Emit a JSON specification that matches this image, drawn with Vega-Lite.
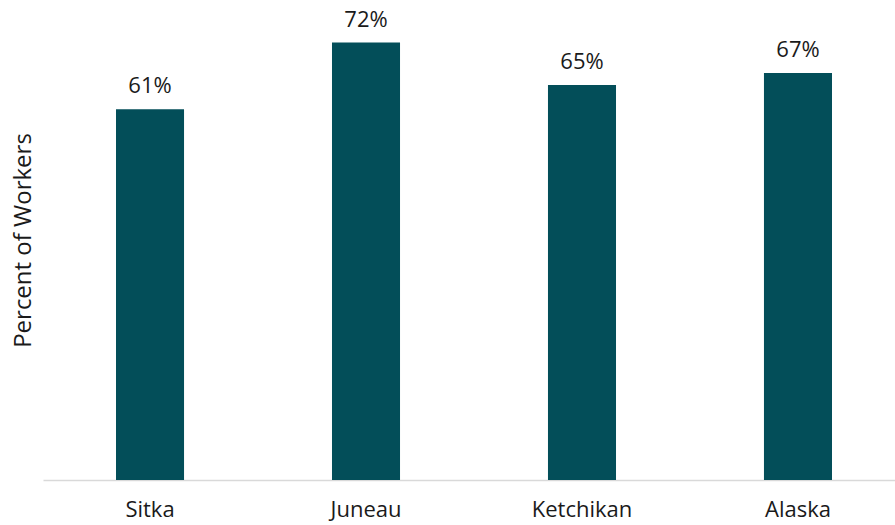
{
  "$schema": "https://vega.github.io/schema/vega-lite/v6.json",
  "autosize": "none",
  "padding": {"left": 43, "top": 0, "right": 0, "bottom": 45},
  "width": 862,
  "height": 480,
  "background": "white",
  "config": {
    "view": {"stroke": null},
    "font": "Open Sans"
  },
  "data": {
    "values": [
      {"area": "Sitka", "pct": 0.61},
      {"area": "Juneau", "pct": 0.72},
      {"area": "Ketchikan", "pct": 0.65},
      {"area": "Alaska", "pct": 0.67}
    ]
  },
  "encoding": {
    "x": {
      "field": "area",
      "type": "nominal",
      "sort": null,
      "scale": {"paddingInner": 0.685, "paddingOuter": 0.338},
      "axis": {
        "title": null,
        "labelAngle": 0,
        "ticks": false,
        "domainColor": "#d9d9d9",
        "domainWidth": 1.5,
        "labelFont": "Open Sans",
        "labelFontSize": 22,
        "labelColor": "#1a1a1a",
        "labelPadding": 19
      }
    },
    "y": {
      "field": "pct",
      "type": "quantitative",
      "scale": {"domain": [0, 0.79]},
      "axis": {
        "title": "Percent of Workers",
        "titleFont": "Open Sans",
        "titleFontSize": 24,
        "titleFontWeight": "normal",
        "titleColor": "#1a1a1a",
        "titlePadding": 8,
        "labels": false,
        "ticks": false,
        "domain": false,
        "grid": false
      }
    }
  },
  "layer": [
    {"mark": {"type": "bar", "color": "#034e59"}},
    {
      "mark": {"type": "text", "baseline": "middle", "dy": -23, "fontSize": 22, "color": "#1a1a1a", "font": "Open Sans"},
      "encoding": {"text": {"field": "pct", "type": "quantitative", "format": ".0%"}}
    }
  ]
}
